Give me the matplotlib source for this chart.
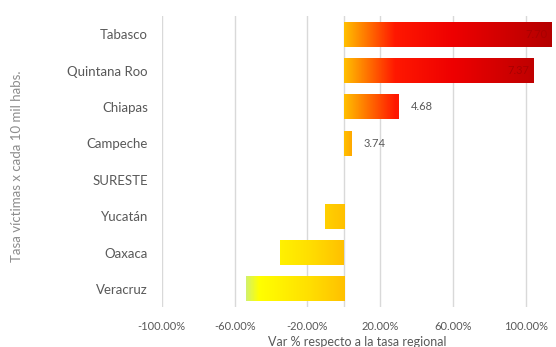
import matplotlib
matplotlib.use('Agg')

import numpy as np
import matplotlib.pyplot as plt
from matplotlib.colors import LinearSegmentedColormap
from matplotlib.patches import Rectangle

plt.rcParams['font.family'] = ['Lato', 'DejaVu Sans']

# DATA
estados = ['Tabasco', 'Quintana Roo', 'Chiapas', 'Campeche', 'SURESTE',
           'Yucatán', 'Oaxaca', 'Veracruz']
var_pct = [1.14, 1.04, 0.30, 0.04, 0.0, -0.105, -0.35, -0.54]
tasas = ['7.70', '7.37', '4.68', '3.74', '', '', '', '']
xticks = [-1.0, -0.6, -0.2, 0.2, 0.6, 1.0]
xticklabels = ['-100.00%', '-60.00%', '-20.00%', '20.00%', '60.00%', '100.00%']

# colour along value axis
xmin, xmax = -1.0, 1.15
stops = [(-1.0, '#c8ec80'), (-0.55, '#cdf07a'), (-0.47, '#ffff00'),
         (-0.2, '#ffe000'), (0.0, '#ffc000'), (0.28, '#ff1800'),
         (0.6, '#ee0000'), (1.15, '#b40000')]
cmap = LinearSegmentedColormap.from_list(
    'grad', [((v - xmin) / (xmax - xmin), c) for v, c in stops])

fig = plt.figure(figsize=(5.56, 3.47), dpi=100)
ax = fig.add_axes([0.291, 0.115, 0.704, 0.839])

y = np.arange(len(estados))[::-1]
bh = 0.69
grad = np.linspace(0, 1, 512).reshape(1, -1)

for yi, v, lab in zip(y, var_pct, tasas):
    if v == 0:
        continue
    x0, x1 = min(0, v), max(0, v)
    im = ax.imshow(grad, cmap=cmap, aspect='auto', extent=[xmin, xmax, yi - bh / 2, yi + bh / 2],
                   zorder=2, interpolation='bilinear')
    r = Rectangle((x0, yi - bh / 2), x1 - x0, bh, transform=ax.transData)
    im.set_clip_path(r)
    if lab:
        if v > 0.8:
            ax.text(v - 0.02, yi, lab, ha='right', va='center', fontsize=8,
                    color='#a80000', zorder=3)
        else:
            ax.text(v + 0.07, yi, lab, ha='left', va='center', fontsize=8,
                    color='#595959', zorder=3)

ax.set_xlim(xmin, xmax)
ax.set_ylim(-0.5, len(estados) - 0.5)
ax.set_xticks(xticks)
ax.set_xticklabels(xticklabels)
ax.set_yticks(y)
ax.set_yticklabels(estados)
ax.grid(True, axis='x', color='#d9d9d9', linewidth=1)
ax.axvline(0, color='#d9d9d9', linewidth=1, zorder=1)
ax.set_axisbelow(True)
for s in ax.spines.values():
    s.set_visible(False)
ax.tick_params(axis='both', length=0, colors='#595959', labelsize=8)
ax.tick_params(axis='y', pad=10, labelsize=9.5)
ax.tick_params(axis='x', pad=10)

ax.set_xlabel('Var % respecto a la tasa regional', fontsize=9, color='#595959', labelpad=3)
fig.text(0.031, 0.52, 'Tasa víctimas x cada 10 mil habs.', rotation=90, ha='center',
         va='center', fontsize=9.5, color='#8c8c8c')

plt.savefig('out.png', dpi=100)
